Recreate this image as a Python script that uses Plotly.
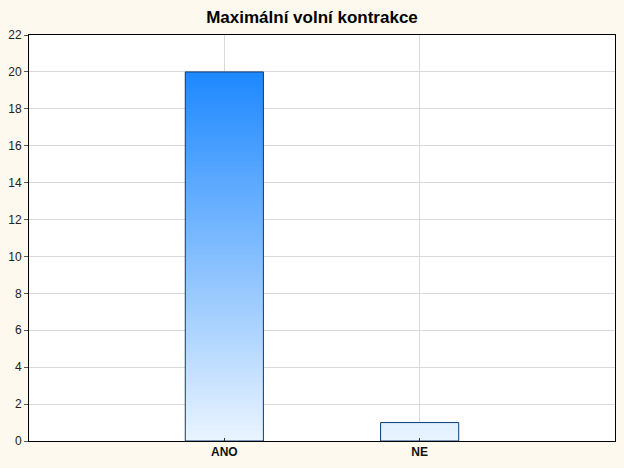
import plotly.graph_objects as go

categories = ["ANO", "NE"]
values = [20, 1]
y_ticks = list(range(0, 23, 2))

# gradient helpers (color depends on height)
c_low = (234, 244, 255)
c_high = (30, 136, 255)
y_full = 20.0
step = 0.1

def col(v):
    t = max(0.0, min(1.0, v / y_full))
    r = [round(a + (b - a) * t) for a, b in zip(c_low, c_high)]
    return f"rgb({r[0]},{r[1]},{r[2]})"

xs, bases, hs, cols = [], [], [], []
for cat, v in zip(categories, values):
    n = int(round(v / step))
    for k in range(n):
        b = k * step
        h = min(step * 1.5, v - b)
        xs.append(cat)
        bases.append(b)
        hs.append(h)
        cols.append(col(b + step / 2))

fig = go.Figure()
fig.add_trace(go.Bar(
    x=xs, y=hs, base=bases, width=0.4,
    marker=dict(color=cols, line=dict(width=0)),
    hoverinfo="skip", showlegend=False,
))
fig.add_trace(go.Bar(
    x=categories, y=values, width=0.4,
    marker=dict(color="rgba(0,0,0,0)", line=dict(color="#0B3C72", width=1)),
    hoverinfo="skip", showlegend=False,
))

fig.update_layout(
    barmode="overlay",
    width=624, height=468,
    margin=dict(l=26, r=8, t=35, b=27),
    paper_bgcolor="#FDF9EE",
    plot_bgcolor="#FFFFFF",
    font=dict(family="Liberation Sans, Arial, sans-serif", size=12, color="#222222"),
    title=dict(text="<b>Maximální volní kontrakce</b>", x=0.5, xanchor="center",
               y=0.963, yanchor="middle", font=dict(size=17, color="#000000")),
    xaxis=dict(
        type="category", categoryorder="array", categoryarray=categories,
        range=[-1, 2], showgrid=True, gridcolor="#D9D9D9", gridwidth=1,
        showline=True, linecolor="#000000", linewidth=1, mirror=True,
        ticks="inside", ticklen=3, tickcolor="#333333",
        tickfont=dict(size=12, color="#111111", family="Liberation Sans, Arial, sans-serif"),
        tickprefix="<b>", ticksuffix="</b>",
    ),
    yaxis=dict(
        range=[0, 22], tickvals=y_ticks, showgrid=True, gridcolor="#D9D9D9", gridwidth=1,
        showline=True, linecolor="#000000", linewidth=1, mirror=True,
        ticks="outside", ticklen=4, tickcolor="#555555",
        tickfont=dict(size=12, color="#222222"), zeroline=False,
    ),
)

fig.write_html("out.html", config={"displayModeBar": False},
               post_script="document.body.style.margin='0';")
